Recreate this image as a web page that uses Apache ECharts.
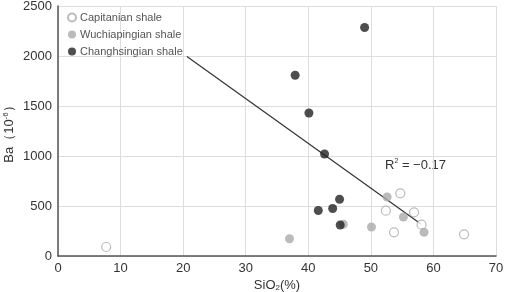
<!DOCTYPE html>
<html>
<head>
<meta charset="utf-8">
<script src="https://cdn.jsdelivr.net/npm/echarts@6/dist/echarts.min.js"></script>
<style>
  html, body { margin: 0; padding: 0; background: #fff; }
  #main { width: 505px; height: 292px; }
</style>
</head>
<body>
<div id="main"></div>
<script>
// SiO2 (%) vs Ba (10^-6)
var capitanian = [[7.7, 90], [54.7, 627], [52.4, 453], [56.9, 437], [58.1, 313], [53.7, 237], [64.9, 217]];
var wuchiapingian = [[37.0, 173], [45.6, 317], [50.1, 290], [52.6, 590], [55.2, 390], [58.5, 237]];
var changhsingian = [[49.0, 2285], [37.9, 1807], [40.1, 1430], [42.6, 1020], [45.0, 567], [41.6, 455], [43.9, 475], [45.1, 310]];
var trendLine = [[20.6, 1995], [58.0, 320]];
var xTicks = [0, 70, 10];   // min, max, interval
var yTicks = [0, 2500, 500];

var chart = echarts.init(document.getElementById('main'), null, { renderer: 'canvas' });

var font = 'Arial, "Liberation Sans", sans-serif';

var option = {
  animation: false,
  textStyle: { fontFamily: font },
  grid: { left: 58, right: 9, top: 6, bottom: 36, containLabel: false, outerBoundsMode: 'none' },
  legend: {
    orient: 'vertical',
    left: 62,
    top: 7,
    itemWidth: 8,
    itemHeight: 8,
    itemGap: 6,
    icon: 'circle',
    textStyle: { fontSize: 11, color: '#555', fontFamily: font, padding: [0, 0, 0, -1] },
    data: ['Capitanian shale', 'Wuchiapingian shale', 'Changhsingian shale']
  },
  xAxis: {
    type: 'value',
    min: xTicks[0],
    max: xTicks[1],
    interval: xTicks[2],
    name: '{a|SiO}{s|2}{a|(%)}',
    nameLocation: 'middle',
    nameGap: 22,
    nameMoveOverlap: false,
    nameTextStyle: {
      rich: {
        a: { fontSize: 13, color: '#333', fontFamily: font },
        s: { fontSize: 8, color: '#333', verticalAlign: 'bottom', padding: [6, 0, 0, 0], fontFamily: font }
      }
    },
    axisLine: { lineStyle: { color: '#555', width: 1.5 } },
    axisTick: { show: false },
    axisLabel: { fontSize: 13, color: '#333', margin: 6, formatter: function (v) { return String(v); } },
    splitLine: { lineStyle: { color: '#ddd', width: 1 } }
  },
  yAxis: {
    type: 'value',
    min: yTicks[0],
    max: yTicks[1],
    interval: yTicks[2],
    name: '{a|Ba（10}{s|-6}{a|）}',
    nameLocation: 'middle',
    nameGap: 42,
    nameMoveOverlap: false,
    nameTextStyle: {
      rich: {
        a: { fontSize: 13, color: '#333', fontFamily: font },
        s: { fontSize: 8, color: '#333', verticalAlign: 'top', padding: [0, 0, 6, 0], fontFamily: font }
      }
    },
    axisLine: { show: true, lineStyle: { color: '#555', width: 1.5 } },
    axisTick: { show: false },
    axisLabel: { fontSize: 13, color: '#333', margin: 6, formatter: function (v) { return String(v); } },
    splitLine: { lineStyle: { color: '#ddd', width: 1 } }
  },
  series: [
    {
      name: 'Trend',
      type: 'line',
      data: trendLine,
      symbol: 'none',
      lineStyle: { color: '#333', width: 1.2 },
      z: 1
    },
    {
      name: 'Capitanian shale',
      type: 'scatter',
      data: capitanian,
      symbolSize: 9,
      itemStyle: { color: '#fff', borderColor: '#aaa', borderWidth: 1.2 },
      z: 3
    },
    {
      name: 'Wuchiapingian shale',
      type: 'scatter',
      data: wuchiapingian,
      symbolSize: 9,
      itemStyle: { color: '#aaa' },
      z: 3
    },
    {
      name: 'Changhsingian shale',
      type: 'scatter',
      data: changhsingian,
      symbolSize: 9,
      itemStyle: { color: '#222' },
      z: 4
    }
  ],
  graphic: [{
    type: 'text',
    left: 385,
    top: 158,
    style: {
      text: '{a|R}{s|2}{a| = −0.17}',
      rich: {
        a: { fontSize: 13, fill: '#333', fontFamily: font },
        s: { fontSize: 7, fill: '#333', verticalAlign: 'top', padding: [0, 0, 7, 0], fontFamily: font }
      }
    }
  }]
};

chart.setOption(option);
</script>
</body>
</html>
